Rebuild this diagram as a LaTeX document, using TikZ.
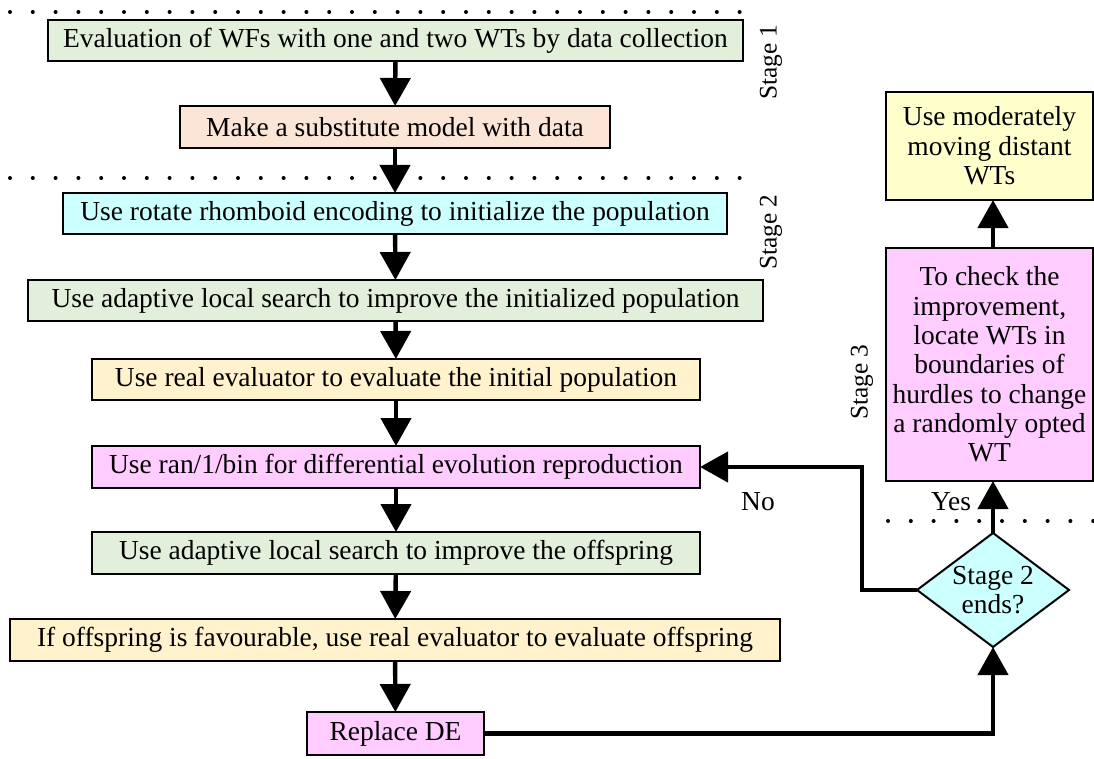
\documentclass[tikz,border=0pt]{standalone}
\usepackage{fontspec}
\setmainfont{Liberation Serif}
\usetikzlibrary{arrows.meta,shapes.geometric}

\definecolor{cgreen}{HTML}{E2EFDA}
\definecolor{cpeach}{HTML}{FBE5D6}
\definecolor{ccyan}{HTML}{CCFFFF}
\definecolor{cyellow}{HTML}{FFF2CC}
\definecolor{cpink}{HTML}{FFCCFF}
\definecolor{clemon}{HTML}{FFFFCC}

\tikzset{
  stepbox/.style={draw=black, line width=1.5pt, rectangle, inner sep=0pt, outer sep=0pt,
    font=\fontsize{20.6}{22}\selectfont, align=center},
  flow/.style={line width=3.3pt, -{Triangle[width=22.5pt,length=21pt]}},
  sep/.style={line width=3pt, line cap=round, dash pattern=on 0pt off 17.1pt},
  stagelbl/.style={rotate=90, font=\fontsize{19}{21}\selectfont, inner sep=0pt},
  tag/.style={font=\fontsize{20.6}{22}\selectfont, inner sep=0pt},
}

\begin{document}
\begin{tikzpicture}[x=0.75pt,y=-0.75pt]
\useasboundingbox (0,0) rectangle (1094,759);

% stage separators
\draw[sep] (10,12) -- (745,12);
\draw[sep] (10,178) -- (745,178);
\draw[sep] (888,521) -- (1094,521);

% main column
\node[stepbox, fill=cgreen, minimum width=521.25pt, minimum height=30.75pt] (s1) at (395.5,40.5)
  {Evaluation of WFs with one and two WTs by data collection};
\node[stepbox, fill=cpeach, minimum width=322.5pt, minimum height=31.5pt] (s2) at (395,127)
  {Make a substitute model with data};
\node[stepbox, fill=ccyan, minimum width=498pt, minimum height=30.75pt] (s3) at (395,213.5)
  {Use rotate rhomboid encoding to initialize the population};
\node[stepbox, fill=cgreen, minimum width=551.25pt, minimum height=30.75pt] (s4) at (395.5,300.5)
  {Use adaptive local search to improve the initialized population};
\node[stepbox, fill=cyellow, minimum width=456pt, minimum height=30.75pt] (s5) at (396,379.5)
  {Use real evaluator to evaluate the initial population};
\node[stepbox, fill=cpink, minimum width=456pt, minimum height=31.5pt] (s6) at (396,467)
  {Use ran/1/bin for differential evolution reproduction};
\node[stepbox, fill=cgreen, minimum width=456pt, minimum height=31.5pt] (s7) at (396,553)
  {Use adaptive local search to improve the offspring};
\node[stepbox, fill=cyellow, minimum width=577.5pt, minimum height=31.5pt] (s8) at (395,640)
  {If offspring is favourable, use real evaluator to evaluate offspring};
\node[stepbox, fill=cpink, minimum width=132.75pt, minimum height=32.25pt] (s9) at (395.5,733.5)
  {Replace DE};

% right column
\node[stepbox, fill=clemon, minimum width=155.25pt, minimum height=81pt] (mv) at (989.5,146)
  {Use moderately\\moving distant\\WTs};
\node[stepbox, fill=cpink, minimum width=155.25pt, minimum height=174.75pt] (chk) at (989.5,364.5)
  {To check the\\improvement,\\locate WTs in\\boundaries of\\hurdles to change\\a randomly opted\\WT};
\node[stepbox, diamond, aspect=1.33, fill=ccyan, minimum width=114pt, minimum height=85.5pt] (dec) at (993,590)
  {Stage 2\\ends?};

% stage labels
\node[stagelbl] (st1) at (771,62) {Stage 1};
\node[stagelbl] (st2) at (771,232) {Stage 2};
\node[stagelbl] (st3) at (862,382) {Stage 3};

% connectors down the main column
\draw[flow] (s1) -- (s2);
\draw[flow] (s2) -- (s3);
\draw[flow] (s3) -- (s4);
\draw[flow] (s4) -- (s5);
\draw[flow] (s5) -- (s6);
\draw[flow] (s6) -- (s7);
\draw[flow] (s7) -- (s8);
\draw[flow] (s8) -- (s9);

% loop back and decision
\draw[flow] (s9.east) -| (dec.south);
\draw[flow] (dec.west) -- (862,590) |- (s6.east);
\draw[flow] (dec.north) -- (dec.north |- chk.south);
\draw[flow] (dec.north |- chk.north) -- (dec.north |- mv.south);

% branch labels
\node[tag] (no) at (758,502) {No};
\node[tag] (yes) at (951,502) {Yes};
\end{tikzpicture}
\end{document}
